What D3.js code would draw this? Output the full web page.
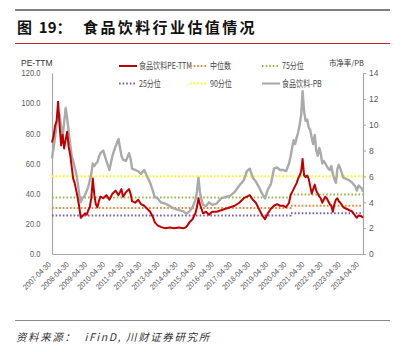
<!DOCTYPE html>
<html>
<head>
<meta charset="utf-8">
<script src="https://cdn.jsdelivr.net/npm/d3@7"></script>
<style>
  body { margin: 0; background: #fff; }
  svg { display: block; }
  text { white-space: pre; }
  .narrow { font-family: "Liberation Sans Narrow", "Arial Narrow", "Liberation Sans", sans-serif; }
</style>
</head>
<body>
<div id="chart"></div>
<script>
// month labels (value at month end) and the two series
const months = ["2007-04","2007-05","2007-06","2007-07","2007-08","2007-09","2007-10","2007-11","2007-12",
  "2008-01","2008-02","2008-03","2008-04","2008-05","2008-06","2008-07","2008-08","2008-09","2008-10","2008-11","2008-12",
  "2009-01","2009-02","2009-03","2009-04","2009-05","2009-06","2009-07","2009-08","2009-09","2009-10","2009-11","2009-12",
  "2010-02","2010-04","2010-06","2010-08","2010-10","2010-12",
  "2011-02","2011-03","2011-05","2011-07","2011-08","2011-09","2011-11",
  "2012-01","2012-03","2012-05","2012-07","2012-09","2012-11","2012-12",
  "2013-02","2013-04","2013-07","2013-10",
  "2014-01","2014-04","2014-07","2014-09","2014-11",
  "2015-01","2015-03","2015-04","2015-05","2015-06","2015-07","2015-08","2015-10","2015-12",
  "2016-02","2016-05","2016-08","2016-11",
  "2017-02","2017-05","2017-08","2017-11",
  "2018-01","2018-03","2018-05","2018-07","2018-09","2018-11",
  "2019-01","2019-03","2019-05","2019-07","2019-09","2019-11",
  "2020-01","2020-03","2020-05","2020-06","2020-07","2020-08","2020-09","2020-10","2020-11","2020-12",
  "2021-01","2021-02","2021-03","2021-04","2021-05","2021-06","2021-07","2021-08","2021-09","2021-10","2021-11","2021-12",
  "2022-01","2022-02","2022-03","2022-04","2022-05","2022-06","2022-07","2022-08","2022-09","2022-10","2022-11","2022-12",
  "2023-01","2023-02","2023-03","2023-05","2023-07","2023-09","2023-11",
  "2024-01","2024-02","2024-03","2024-05","2024-06"];

const peTTM = [74,78,85,88,101,85,72,79,70,
  76,81,71,66,58,50,47,42,37,31,24,25,
  26,27,26,29,31,37,50,39,33,31,35,38,
  37,39,36,40,42,39,
  43,38,41,43,40,35,34,
  36,33,32,30,28,24,21,
  19,18,17,17.5,
  17,17.5,17,18,21,
  23,27,31,37,33,30,27,28,26,
  28,28,29,30,
  31,32,34,37,
  38,39,36,34,30,26,
  23,27,30,32,33,32,
  32,31,34,39,41,43,45,47,50,52,
  55,63,52,51,52,50,45,40,43,46,42,40,
  38,37,34,36,38,37,35,33,32,28,33,36,
  37,35,34,31,30,29,28,
  25,24,25.5,25,24];

const pb = [7.4,8.2,9.0,10.0,11.0,10.8,9.8,9.0,10.2,
  11.3,10.5,9.5,8.5,7.6,7.2,6.7,6.2,5.5,4.6,4.0,4.3,
  4.4,4.6,4.9,5.2,5.7,6.2,7.0,6.8,7.0,7.1,7.5,7.8,
  8.0,7.2,6.5,7.6,8.3,8.9,
  7.6,7.3,7.2,7.8,7.4,6.6,6.5,
  6.4,6.2,6.5,6.0,5.5,4.8,4.4,
  4.3,4.0,3.9,3.7,
  3.5,3.4,3.3,3.1,3.3,
  3.6,4.2,4.8,5.9,4.8,4.2,3.8,3.7,4.0,
  3.8,3.9,4.3,4.4,
  4.5,4.8,5.3,5.7,
  6.4,6.6,5.9,5.6,5.2,4.7,
  4.3,5.0,5.4,6.6,6.7,6.5,
  6.5,6.4,7.0,7.5,8.2,8.8,8.5,9.0,9.4,10.0,
  10.8,12.6,11.0,10.3,10.4,9.8,9.6,9.0,8.5,9.2,8.0,7.6,
  8.2,7.8,7.0,7.2,7.0,6.8,6.6,6.5,6.8,6.2,5.8,5.5,
  6.6,6.9,6.6,5.9,5.8,5.7,5.5,
  5.2,4.9,5.3,5.1,4.8];

// quantile lines (PE), value before / after the step in mid 2020
const quantStep = "2020-06";
const q25 = [25.5, 27];
const qMedian = [30.5, 32];
const q75 = [37.5, 39.5];
const q90 = [51.5, 51.5];

const tickDates = d3.range(2007, 2025).map(y => y + "-04-30");
const peTicks = [0, 20, 40, 60, 80, 100, 120];
const pbTicks = [0, 2, 4, 6, 8, 10, 12, 14];

const W = 402, H = 352;
const plotL = 52, plotR = 363, plotT = 73, plotB = 254;
const cjk = "'Noto Sans CJK SC', sans-serif";

const svg = d3.select("#chart").append("svg")
  .attr("width", W).attr("height", H);

// title block
svg.append("line").attr("x1", 15).attr("x2", 390).attr("y1", 10).attr("y2", 10)
  .attr("stroke", "#555").attr("stroke-width", 1.5);
svg.append("text")
  .attr("x", 17).attr("y", 33)
  .attr("font-family", cjk).attr("font-size", 15).attr("font-weight", 700)
  .attr("fill", "#111")
  .text("图  19：");
svg.append("text")
  .attr("x", 83).attr("y", 33)
  .attr("font-family", cjk).attr("font-size", 15).attr("font-weight", 700)
  .attr("letter-spacing", 2.4)
  .attr("fill", "#111")
  .text("食品饮料行业估值情况");
svg.append("line").attr("x1", 15).attr("x2", 390).attr("y1", 43.5).attr("y2", 43.5)
  .attr("stroke", "#c0282d").attr("stroke-width", 1.2);

// footer
svg.append("line").attr("x1", 15).attr("x2", 390).attr("y1", 320.5).attr("y2", 320.5)
  .attr("stroke", "#888").attr("stroke-width", 1.2);
svg.append("text")
  .attr("x", 16).attr("y", 341)
  .attr("font-family", cjk)
  .attr("font-size", 10.5).attr("font-style", "italic")
  .attr("letter-spacing", 1.6)
  .attr("fill", "#333")
  .text("资料来源：  iFinD, 川财证券研究所");

// scales
const parseM = d3.timeParse("%Y-%m");
const monthEnd = s => d3.timeDay.offset(d3.timeMonth.offset(parseM(s), 1), -1);
const parseD = d3.timeParse("%Y-%m-%d");

const x = d3.scaleTime()
  .domain([parseD("2007-04-30"), parseD("2024-06-30")])
  .range([plotL, plotR]);
const yL = d3.scaleLinear().domain([0, 120]).range([plotB, plotT]);
const yR = d3.scaleLinear().domain([0, 14]).range([plotB, plotT]);

// axes
const axisColor = "#a6a6a6", labelColor = "#595959";

const gL = svg.append("g").attr("transform", `translate(${plotL},0)`)
  .call(d3.axisLeft(yL).tickValues(peTicks).tickFormat(d3.format(".1f")).tickSize(0).tickPadding(7));
const gR = svg.append("g").attr("transform", `translate(${plotR},0)`)
  .call(d3.axisRight(yR).tickValues(pbTicks).tickSize(3).tickPadding(3));
const gX = svg.append("g").attr("transform", `translate(0,${plotB})`)
  .call(d3.axisBottom(x).tickValues(tickDates.map(parseD)).tickFormat(d3.timeFormat("%Y-%m-%d")).tickSize(0));

[gL, gR, gX].forEach(g => {
  g.select(".domain").attr("stroke", axisColor).attr("stroke-width", 1.2);
  g.selectAll(".tick line").attr("stroke", axisColor);
  g.selectAll("text").attr("class", "narrow").attr("fill", labelColor).attr("font-size", 8.5);
});
gL.selectAll("text").attr("transform", "translate(-46,0) scale(0.88,1) translate(46,0)");
gX.selectAll("text")
  .attr("font-size", 7.8)
  .attr("text-anchor", "end")
  .attr("transform", "translate(-3,9) rotate(-45) scale(0.9,1)")
  .attr("dy", "0.35em").attr("y", 0);

// axis titles
svg.append("text").attr("class", "narrow")
  .attr("x", 21).attr("y", 66).attr("font-size", 8.5).attr("fill", "#333")
  .text("PE-TTM");
svg.append("text")
  .attr("x", 364).attr("y", 66).attr("text-anchor", "end")
  .attr("font-family", cjk)
  .attr("font-size", 7.5).attr("fill", "#333")
  .text("市净率/PB");

// series
const dates = months.map(monthEnd);

const lineL = d3.line().x((d, i) => x(dates[i])).y(d => yL(d));
const lineR = d3.line().x((d, i) => x(dates[i])).y(d => yR(d));

const quants = [
  { name: "25分位", vals: q25, color: "#7a5ca8" },
  { name: "中位数", vals: qMedian, color: "#f0812e" },
  { name: "75分位", vals: q75, color: "#93b84a" },
  { name: "90分位", vals: q90, color: "#ffff00" }
];

const stepDate = monthEnd(quantStep);
const qLine = d3.line().curve(d3.curveStepAfter).x(d => x(d[0])).y(d => yL(d[1]));

svg.selectAll(".quant")
  .data(quants)
  .join("path")
  .attr("class", "quant")
  .attr("d", q => qLine([[x.domain()[0], q.vals[0]], [stepDate, q.vals[1]], [x.domain()[1], q.vals[1]]]))
  .attr("fill", "none")
  .attr("stroke", q => q.color)
  .attr("stroke-width", 2)
  .attr("stroke-dasharray", "1.6,2");

svg.append("path")
  .attr("d", lineR(pb))
  .attr("fill", "none")
  .attr("stroke", "#aaaaaa")
  .attr("stroke-width", 2.4)
  .attr("stroke-linejoin", "round");

svg.append("path")
  .attr("d", lineL(peTTM))
  .attr("fill", "none")
  .attr("stroke", "#c00000")
  .attr("stroke-width", 2)
  .attr("stroke-linejoin", "round");

// legend
const legend = [
  { name: "食品饮料PE-TTM", color: "#c00000", dash: null, x: 119, y: 66 },
  { name: "中位数", color: "#f0812e", dash: "1.6,2", x: 190, y: 66 },
  { name: "75分位", color: "#93b84a", dash: "1.6,2", x: 262, y: 66 },
  { name: "25分位", color: "#7a5ca8", dash: "1.6,2", x: 119, y: 83.5 },
  { name: "90分位", color: "#ffff00", dash: "1.6,2", x: 190, y: 83.5 },
  { name: "食品饮料-PB", color: "#a6a6a6", dash: null, x: 262, y: 83.5 }
];
const lg = svg.selectAll(".lg").data(legend).join("g")
  .attr("class", "lg")
  .attr("transform", d => `translate(${d.x},${d.y})`);
lg.append("line")
  .attr("x1", 0).attr("x2", 18)
  .attr("stroke", d => d.color)
  .attr("stroke-width", 2)
  .attr("stroke-dasharray", d => d.dash);
lg.append("text")
  .attr("transform", "translate(20,0) scale(0.82,1)")
  .attr("dy", "0.35em")
  .attr("font-family", cjk)
  .attr("font-size", 8.6)
  .attr("fill", "#444")
  .text(d => d.name);
</script>
</body>
</html>
